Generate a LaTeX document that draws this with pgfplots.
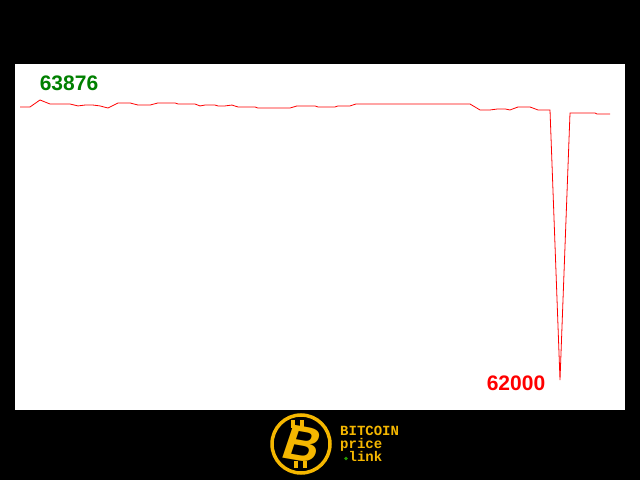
\documentclass[border=0pt]{standalone}
\usepackage{pgfplots}
\pgfplotsset{compat=1.18}
\usepackage{fontspec}
\setmainfont{Liberation Sans}
\newfontfamily\logofont{Liberation Mono}
\definecolor{gold}{RGB}{245,183,0}
\definecolor{labgreen}{RGB}{0,128,0}
\begin{document}
\begin{tikzpicture}[x=1pt,y=1pt]
\fill[black] (0,0) rectangle (640,480);
\fill[white] (15,70) rectangle (625,416);
\begin{axis}[
    at={(15pt,70pt)}, anchor=south west,
    width=610pt, height=346pt, scale only axis,
    xmin=15, xmax=625, ymin=61799, ymax=64117,
    axis lines=none, ticks=none,
]
\addplot[red, line width=0.8pt] coordinates {
    (20,63829) (30,63829) (40,63876) (50,63849) (55,63849) (70,63849)
    (78,63836) (85,63842) (93,63842) (100,63836) (108,63822) (118,63856)
    (130,63856) (138,63842) (150,63842) (158,63856) (175,63856) (178,63849)
    (195,63849) (200,63836) (205,63842) (215,63842) (218,63836) (225,63836)
    (232,63842) (238,63829) (255,63829) (258,63822) (290,63822) (297,63836)
    (315,63836) (318,63829) (335,63829) (338,63836) (350,63836) (356,63849)
    (470,63849) (480,63809) (490,63809) (498,63816) (505,63816) (510,63809)
    (518,63829) (530,63829) (538,63809) (550,63809) (560,62000) (570,63789)
    (595,63789) (597,63782) (610,63782)
};
\node[text=labgreen, font=\bfseries\fontsize{21}{21}\selectfont] at (axis cs:69,63990) {63876};
\node[text=red, font=\bfseries\fontsize{21}{21}\selectfont] at (axis cs:516,61980) {62000};
\end{axis}
% logo
\draw[gold, line width=3.5pt, fill=black] (301,36) circle (29);
\fill[gold] (291,52) rectangle (295,60);
\fill[gold] (300,52) rectangle (304,60);
\fill[gold] (294,12) rectangle (298,19);
\fill[gold] (303,12) rectangle (307,19);
\node[text=gold, rotate=-10, xslant=0.15, font=\bfseries\fontsize{50}{50}\selectfont] at (303,36) {B};
\node[text=gold, anchor=base west, inner sep=0pt, font=\logofont\bfseries\fontsize{14}{14}\selectfont] at (340,45) {BITCOIN};
\node[text=gold, anchor=base west, inner sep=0pt, font=\logofont\bfseries\fontsize{14}{14}\selectfont] at (340,32) {price};
\fill[labgreen!80!lime] (346,21.5) circle (1.8);
\node[text=gold, anchor=base west, inner sep=0pt, font=\logofont\bfseries\fontsize{14}{14}\selectfont] at (348.4,19) {link};
\end{tikzpicture}
\end{document}
